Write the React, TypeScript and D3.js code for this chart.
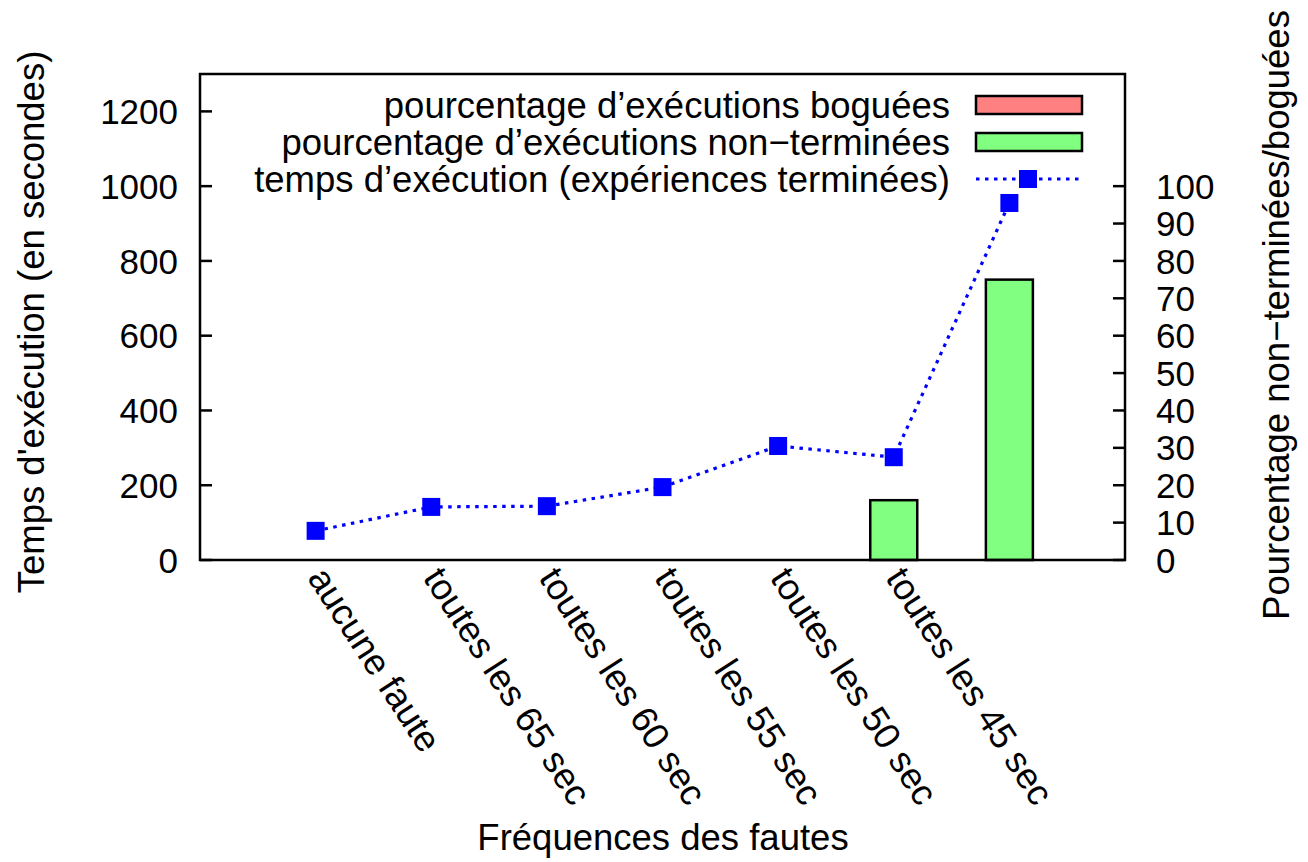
import React from "react";
import * as d3 from "d3";

const categories = ["aucune faute", "toutes les 65 sec", "toutes les 60 sec", "toutes les 55 sec", "toutes les 50 sec", "toutes les 45 sec", ""];
const execTime = [78, 142, 144, 195, 305, 275, 955];
const pctNonTerminated = [0, 0, 0, 0, 0, 16, 75];
const pctBuggy = [0, 0, 0, 0, 0, 0, 0];
const leftTicks = [0, 200, 400, 600, 800, 1000, 1200];
const rightTicks = [0, 10, 20, 30, 40, 50, 60, 70, 80, 90, 100];
const legendLabels = [
  "pourcentage d\u2019exécutions boguées",
  "pourcentage d\u2019exécutions non\u2212terminées",
  "temps d\u2019exécution (expériences terminées)",
];

const W = 1308, H = 862;
const L = 200, R = 1125, T = 74, B = 560;
const FONT = "'Liberation Sans', Arial, Helvetica, sans-serif";
const FS = 36.5;
const TFS = 35;

export default function App() {
  const x = d3.scaleLinear().domain([-1, 7]).range([L, R]);
  const yL = d3.scaleLinear().domain([0, 1300]).range([B, T]);
  const yR = d3.scaleLinear().domain([0, 130]).range([B, T]);
  const barW = 47;
  const line = d3.line<number>().x((_, i) => x(i)).y((d) => yL(d));
  const ang = 57;
  return (
    <svg width={W} height={H} style={{ position: "absolute", left: 0, top: 0, background: "#fff" }} fontFamily={FONT} fontSize={FS}>
      <rect x={0} y={0} width={W} height={H} fill="#fff" />
      {pctNonTerminated.map((v, i) => v > 0 ? (
        <rect key={"g" + i} x={x(i) - barW / 2} y={yR(v)} width={barW} height={yR(0) - yR(v)} fill="#80ff80" stroke="#000" strokeWidth={2.5} />
      ) : null)}
      {pctBuggy.map((v, i) => v > 0 ? (
        <rect key={"r" + i} x={x(i) - barW / 2} y={yR(v)} width={barW} height={yR(0) - yR(v)} fill="#ff8080" stroke="#000" strokeWidth={2.5} />
      ) : null)}
      <path d={line(execTime) || ""} fill="none" stroke="#0000ff" strokeWidth={3.2} strokeDasharray="3.5,5.5" />
      {execTime.map((v, i) => (
        <rect key={"p" + i} x={x(i) - 9} y={yL(v) - 9} width={18} height={18} fill="#0000ff" />
      ))}
      <rect x={L} y={T} width={R - L} height={B - T} fill="none" stroke="#000" strokeWidth={2.5} />
      {leftTicks.map((t) => (
        <g key={"lt" + t}>
          <line x1={L} x2={L + 12} y1={yL(t)} y2={yL(t)} stroke="#000" strokeWidth={2.5} />
          <text x={178} y={yL(t)} dy="0.36em" textAnchor="end" fontSize={TFS}>{t}</text>
        </g>
      ))}
      {rightTicks.map((t) => (
        <g key={"rt" + t}>
          <line x1={R - 12} x2={R} y1={yR(t)} y2={yR(t)} stroke="#000" strokeWidth={2.5} />
          <text x={1156} y={yR(t)} dy="0.36em" textAnchor="start" fontSize={TFS}>{t}</text>
        </g>
      ))}
      {categories.map((c, i) => c ? (
        <text key={"xl" + i} transform={`translate(${x(i) - 9},${578}) rotate(${ang})`} textAnchor="start">{c}</text>
      ) : null)}
      <text transform={`translate(44,${322}) rotate(-90)`} textAnchor="middle">Temps d'exécution (en secondes)</text>
      <text transform={`translate(1289,${315}) rotate(-90)`} textAnchor="middle">Pourcentage non−terminées/boguées</text>
      <text x={663} y={850} textAnchor="middle">Fréquences des fautes</text>
      {legendLabels.map((lab, i) => (
        <text key={"lg" + i} x={950} y={105 + i * 37} dy="0.36em" textAnchor="end">{lab}</text>
      ))}
      <rect x={976} y={96} width={106} height={18} fill="#ff8080" stroke="#000" strokeWidth={2.5} />
      <rect x={976} y={133} width={106} height={18} fill="#80ff80" stroke="#000" strokeWidth={2.5} />
      <line x1={976} x2={1082} y1={179} y2={179} stroke="#0000ff" strokeWidth={3.2} strokeDasharray="3.5,5.5" />
      <rect x={1028 - 9} y={179 - 9} width={18} height={18} fill="#0000ff" />
    </svg>
  );
}
